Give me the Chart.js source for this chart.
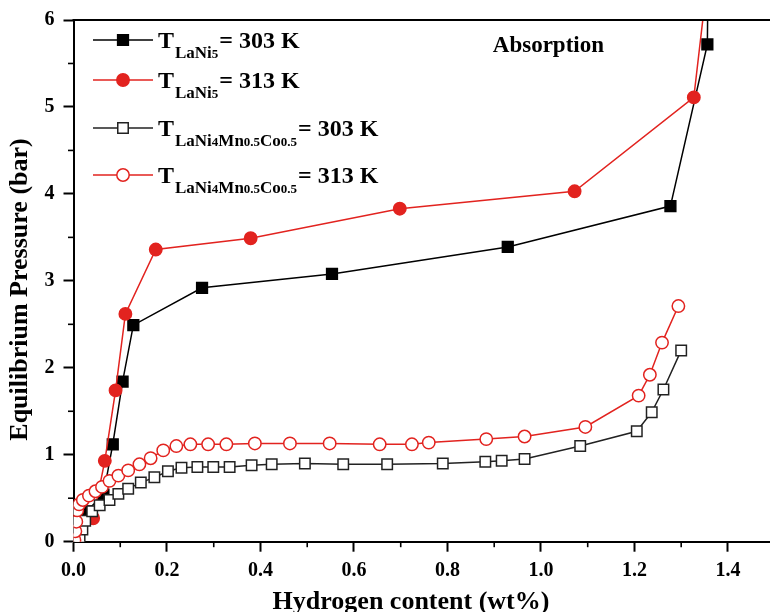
<!DOCTYPE html>
<html>
<head>
<meta charset="utf-8">
<title>Absorption PCT curves</title>
<script src="https://cdn.jsdelivr.net/npm/chart.js@4.4.1/dist/chart.umd.min.js"></script>
<style>
  html, body { margin: 0; padding: 0; background: #fff; }
  #wrap { width: 770px; height: 612px; }
</style>
</head>
<body>
<div id="wrap"><canvas id="pct" width="770" height="612"></canvas></div>
<script>
  /* values: hydrogen content (wt%) vs pressure (bar) */
  const lani5_303_x = [0.005, 0.028, 0.064, 0.084, 0.105, 0.128, 0.275, 0.553, 0.929, 1.277, 1.356, 1.358];
  const lani5_303_y = [0.03, 0.35, 0.54, 1.12, 1.84, 2.49, 2.92, 3.08, 3.39, 3.86, 5.72, 6.8];

  const lani5_313_x = [0.003, 0.042, 0.067, 0.090, 0.111, 0.176, 0.379, 0.698, 1.072, 1.327, 1.357];
  const lani5_313_y = [0.02, 0.27, 0.93, 1.74, 2.62, 3.36, 3.49, 3.83, 4.03, 5.11, 6.5];

  const mnco_303_x = [0.013, 0.019, 0.025, 0.040, 0.056, 0.077, 0.096, 0.117, 0.144, 0.173, 0.202, 0.231, 0.265, 0.299, 0.334,
                      0.381, 0.424, 0.495, 0.577, 0.671, 0.790, 0.881, 0.916, 0.965, 1.084, 1.205, 1.237, 1.262, 1.300];
  const mnco_303_y = [0.03, 0.14, 0.24, 0.35, 0.42, 0.48, 0.55, 0.61, 0.68, 0.74, 0.81, 0.85, 0.86, 0.86, 0.86,
                      0.88, 0.89, 0.90, 0.89, 0.89, 0.90, 0.92, 0.93, 0.95, 1.10, 1.27, 1.49, 1.75, 2.20];

  const mnco_313_x = [0.002, 0.004, 0.006, 0.008, 0.012, 0.020, 0.033, 0.047, 0.061, 0.077, 0.096, 0.117, 0.141, 0.165, 0.192, 0.220,
                      0.250, 0.288, 0.327, 0.388, 0.463, 0.548, 0.655, 0.724, 0.760, 0.883, 0.965, 1.095, 1.209, 1.233, 1.259, 1.294];
  const mnco_313_y = [0.02, 0.12, 0.23, 0.36, 0.43, 0.48, 0.53, 0.58, 0.63, 0.70, 0.76, 0.82, 0.89, 0.96, 1.05, 1.10,
                      1.12, 1.12, 1.12, 1.13, 1.13, 1.13, 1.12, 1.12, 1.14, 1.18, 1.21, 1.32, 1.68, 1.92, 2.29, 2.71];

  const xTicks = [0, 0.2, 0.4, 0.6, 0.8, 1.0, 1.2, 1.4];
  const xMinor = [0.1, 0.3, 0.5, 0.7, 0.9, 1.1, 1.3];
  const yTicks = [0, 1, 2, 3, 4, 5, 6];
  const yMinor = [0.5, 1.5, 2.5, 3.5, 4.5, 5.5];

  const legendSubs = ["LaNi5", "LaNi5", "LaNi4Mn0.5Co0.5", "LaNi4Mn0.5Co0.5"];
  const legendTemps = ["= 303 K", "= 313 K", "= 303 K", "= 313 K"];
  const xTitle = "Hydrogen content (wt%)";
  const yTitle = "Equilibrium Pressure (bar)";
  const note = "Absorption";

  const RED = "#e2231f";
  const SERIF = '"Liberation Serif", "Times New Roman", serif';
  const pts = (xs, ys) => xs.map((v, i) => ({ x: v, y: ys[i] }));

  const series = [
    { data: pts(lani5_303_x, lani5_303_y), borderColor: "#000", backgroundColor: "#000", pointStyle: "rect", pointRadius: 7.6, order: 4 },
    { data: pts(lani5_313_x, lani5_313_y), borderColor: RED, backgroundColor: RED, pointStyle: "circle", pointRadius: 6.2, order: 3 },
    { data: pts(mnco_303_x, mnco_303_y), borderColor: "#222", backgroundColor: "#fff", pointStyle: "rect", pointRadius: 7.4, order: 2 },
    { data: pts(mnco_313_x, mnco_313_y), borderColor: RED, backgroundColor: "#fff", pointStyle: "circle", pointRadius: 6.2, order: 1 },
  ].map((s) => Object.assign({ borderWidth: 1.5, pointBorderColor: s.borderColor, pointBackgroundColor: s.backgroundColor,
                                pointBorderWidth: 1.5, tension: 0, fill: false, showLine: true }, s));

  function marker(ctx, s, x, y) {
    ctx.beginPath();
    if (s.pointStyle === "rect") {
      const h = Math.SQRT1_2 * s.pointRadius;
      ctx.rect(x - h, y - h, 2 * h, 2 * h);
    } else {
      ctx.arc(x, y, s.pointRadius, 0, Math.PI * 2);
    }
    ctx.fillStyle = s.backgroundColor; ctx.fill();
    ctx.lineWidth = 1.5; ctx.strokeStyle = s.borderColor; ctx.stroke();
  }

  /* frame top, minor ticks, titles, legend with subscripts */
  const decor = {
    id: "decor",
    afterDraw(chart) {
      const { ctx, chartArea: a, scales: { x, y } } = chart;
      ctx.save();
      ctx.strokeStyle = "#000";
      ctx.lineWidth = 2;
      ctx.beginPath(); ctx.moveTo(a.left - 1, a.top); ctx.lineTo(a.right, a.top); ctx.stroke();

      ctx.lineWidth = 1.6;
      xMinor.forEach((v) => { const p = x.getPixelForValue(v); ctx.beginPath(); ctx.moveTo(p, a.bottom); ctx.lineTo(p, a.bottom + 5.5); ctx.stroke(); });
      yMinor.forEach((v) => { const p = y.getPixelForValue(v); ctx.beginPath(); ctx.moveTo(a.left, p); ctx.lineTo(a.left - 5.5, p); ctx.stroke(); });

      ctx.fillStyle = "#000";
      ctx.textBaseline = "alphabetic";
      ctx.textAlign = "center";
      ctx.font = "bold 26px " + SERIF;
      ctx.fillText(xTitle, 411, 609);
      ctx.save(); ctx.translate(27, 289.5); ctx.rotate(-Math.PI / 2); ctx.fillText(yTitle, 0, 0); ctx.restore();

      ctx.textAlign = "right";
      ctx.font = "bold 23px " + SERIF;
      ctx.fillText(note, 604, 52);

      ctx.textAlign = "left";
      const rowY = [40, 80, 128, 175];
      series.forEach((s, i) => {
        const my = rowY[i];
        ctx.lineWidth = 1.5; ctx.strokeStyle = s.borderColor;
        ctx.beginPath(); ctx.moveTo(93, my); ctx.lineTo(153, my); ctx.stroke();
        marker(ctx, s, 123, my);
        ctx.fillStyle = "#000";
        const base = my + 8;
        let cx = 158;
        ctx.font = "bold 24px " + SERIF;
        ctx.fillText("T", cx, base);
        cx += ctx.measureText("T").width + 1;
        legendSubs[i].split(/(\d[\d.]*)/).filter(Boolean).forEach((part) => {
          ctx.font = (/^\d/.test(part) ? "bold 13px " : "bold 17px ") + SERIF;
          ctx.fillText(part, cx, base + 9.5);
          cx += ctx.measureText(part).width;
        });
        ctx.font = "bold 24px " + SERIF;
        ctx.fillText(legendTemps[i], cx + 1, base);
      });
      ctx.restore();
    },
  };

  const tickFont = { family: SERIF, size: 20, weight: "bold" };
  const axisGrid = { drawOnChartArea: false, drawTicks: true, tickLength: 10, tickWidth: 2, tickColor: "#000" };
  const axisBorder = { display: true, color: "#000", width: 2 };

  new Chart(document.getElementById("pct"), {
    type: "scatter",
    data: { datasets: series },
    options: {
      responsive: false,
      animation: false,
      devicePixelRatio: 1,
      layout: { autoPadding: false, padding: { top: 20, right: 0, left: 0, bottom: 0 } },
      plugins: { legend: { display: false }, tooltip: { enabled: false } },
      scales: {
        x: {
          type: "linear", min: 0, max: 1.49,
          afterBuildTicks: (s) => { s.ticks = xTicks.map((v) => ({ value: v })); },
          afterFit: (s) => { s.height = 70.3; s.paddingLeft = 0; s.paddingRight = 0; },
          ticks: { font: tickFont, color: "#000", padding: 7, maxRotation: 0, callback: (v) => Number(v).toFixed(1) },
          grid: axisGrid, border: axisBorder,
        },
        y: {
          type: "linear", min: 0, max: 6,
          afterBuildTicks: (s) => { s.ticks = yTicks.map((v) => ({ value: v })); },
          afterFit: (s) => { s.width = 73.5; s.paddingTop = 0; s.paddingBottom = 0; },
          ticks: { font: tickFont, color: "#000", padding: 9, callback: (v) => String(v) },
          grid: axisGrid, border: axisBorder,
        },
      },
    },
    plugins: [decor],
  });
</script>
</body>
</html>
